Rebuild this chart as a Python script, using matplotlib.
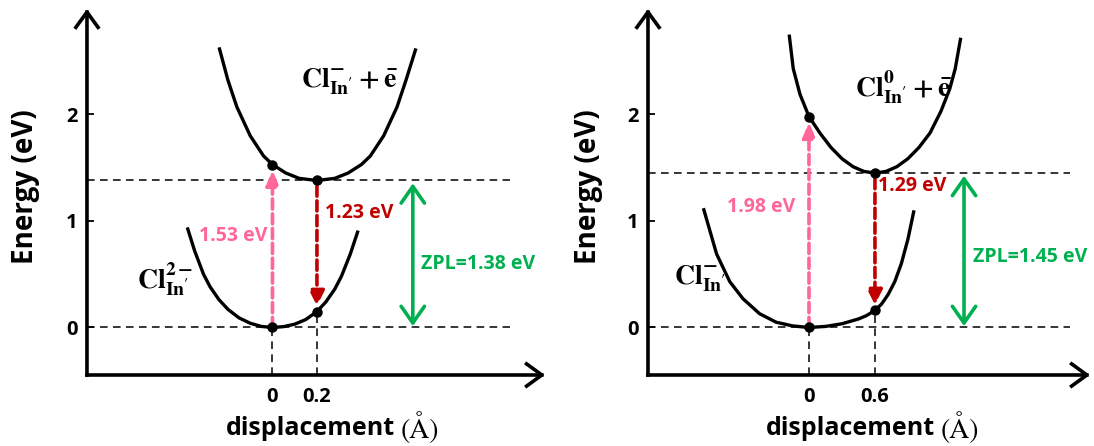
import matplotlib
matplotlib.use("Agg")
import matplotlib.pyplot as plt

plt.rcParams["font.family"] = ["Open Sans", "DejaVu Sans"]
plt.rcParams["font.weight"] = "bold"
plt.rcParams["mathtext.fontset"] = "stix"

PINK = "#ff6699"
RED = "#c00000"
GREEN = "#00b050"

# ---- left panel: Cl_In'^2- ground state / Cl_In'^- + e excited state ----
a_shift = 0.2          # displacement of excited minimum (A)
a_abs = 1.53           # vertical absorption (eV)
a_emi = 1.23           # vertical emission (eV)
a_zpl = 1.38           # zero-phonon line (eV)
a_ticks = [0, 0.2]
a_ticklabels = ["0", "0.2"]
a_ground_x = [-0.383, -0.35, -0.31, -0.28, -0.24, -0.20, -0.15, -0.10, -0.05, 0.0,
              0.05, 0.10, 0.15, 0.20, 0.24, 0.28, 0.31, 0.35, 0.385]
a_ground_e = [0.94, 0.72, 0.50, 0.38, 0.26, 0.17, 0.09, 0.04, 0.01, 0.0,
              0.008, 0.031, 0.075, 0.15, 0.24, 0.36, 0.48, 0.69, 0.91]
a_excited_x = [-0.24, -0.20, -0.16, -0.10, -0.04, 0.0, 0.06, 0.12, 0.20,
               0.28, 0.34, 0.40, 0.44, 0.50, 0.56, 0.60, 0.645]
a_excited_e = [2.63, 2.32, 2.07, 1.80, 1.61, 1.53, 1.45, 1.40, 1.38,
               1.40, 1.45, 1.53, 1.61, 1.80, 2.07, 2.32, 2.62]

# ---- right panel: Cl_In'^- ground state / Cl_In'^0 + e excited state ----
b_shift = 0.6
b_abs = 1.98
b_emi = 1.29
b_zpl = 1.45
b_ticks = [0, 0.6]
b_ticklabels = ["0", "0.6"]
b_ground_x = [-0.96, -0.84, -0.72, -0.60, -0.45, -0.30, -0.15, 0.0,
              0.15, 0.30, 0.45, 0.52, 0.60, 0.66, 0.72, 0.78, 0.84, 0.90, 0.955]
b_ground_e = [1.12, 0.69, 0.43, 0.27, 0.13, 0.05, 0.015, 0.0,
              0.01, 0.035, 0.08, 0.11, 0.16, 0.22, 0.31, 0.43, 0.60, 0.83, 1.10]
b_excited_x = [-0.18, -0.143, -0.082, 0.0, 0.1, 0.2, 0.3, 0.4, 0.5, 0.6,
               0.7, 0.8, 0.9, 1.0, 1.1, 1.2, 1.28, 1.33, 1.38]
b_excited_e = [2.75, 2.43, 2.19, 1.98, 1.825, 1.69, 1.585, 1.51, 1.465, 1.45,
               1.465, 1.51, 1.585, 1.69, 1.825, 2.03, 2.24, 2.43, 2.72]


def draw_panel(ax, xlim, ylim, ground, excited, shift, e_abs, e_emi, zpl,
               ticks, ticklabels, level_end, zpl_x, labels):
    ax.set_xlim(*xlim)
    ax.set_ylim(*ylim)
    for s in ax.spines.values():
        s.set_visible(False)

    # axes drawn as arrows
    head = "->,head_length=0.55,head_width=0.4"
    for end in [(0, 1), (1, 0)]:
        ax.annotate("", xy=end, xytext=(0, 0), xycoords="axes fraction",
                    textcoords="axes fraction",
                    arrowprops=dict(arrowstyle=head, lw=2.6, color="black",
                                    shrinkA=0, shrinkB=0, mutation_scale=20,
                                    capstyle="projecting"),
                    annotation_clip=False)

    ax.set_yticks([0, 1, 2])
    ax.tick_params(axis="y", direction="in", length=5, width=1.3, pad=7,
                   labelsize=14.5)
    ax.set_xticks(ticks)
    ax.set_xticklabels(ticklabels)
    ax.tick_params(axis="x", length=0, pad=9, labelsize=14.5)

    e_low = zpl - e_emi
    dash = dict(color="black", lw=1.1, dashes=(5, 3.5), zorder=1)
    ax.plot([xlim[0], level_end], [0, 0], **dash)
    ax.plot([xlim[0], level_end], [zpl, zpl], **dash)
    ax.plot([0, 0], [ylim[0], 0], **dash)
    ax.plot([shift, shift], [ylim[0], e_low], **dash)

    ax.plot(*ground, color="black", lw=2.4, solid_capstyle="butt",
            solid_joinstyle="round", zorder=3)
    ax.plot(*excited, color="black", lw=2.4, solid_capstyle="butt",
            solid_joinstyle="round", zorder=3)

    # absorption, emission and ZPL arrows
    ax.annotate("", xy=(0, e_abs), xytext=(0, 0),
                arrowprops=dict(arrowstyle="-|>,head_length=0.9,head_width=0.38",
                                color=PINK, lw=2.6, linestyle=(0, (2.8, 1.3)),
                                shrinkA=0, shrinkB=4, mutation_scale=10), zorder=4)
    ax.annotate("", xy=(shift, e_low), xytext=(shift, zpl),
                arrowprops=dict(arrowstyle="-|>,head_length=0.9,head_width=0.45",
                                color=RED, lw=2.6, linestyle=(0, (2.8, 1.3)),
                                shrinkA=4, shrinkB=4, mutation_scale=10), zorder=4)
    ax.annotate("", xy=(zpl_x, 0), xytext=(zpl_x, zpl),
                arrowprops=dict(arrowstyle="<->,head_length=0.6,head_width=0.42",
                                color=GREEN, lw=2.6, shrinkA=2, shrinkB=1,
                                mutation_scale=20), zorder=4)

    ax.plot([0, 0, shift, shift], [0, e_abs, zpl, e_low], "o", color="black",
            ms=6.5, zorder=6)

    for (x, y, s, ha, color, size) in labels:
        ax.text(x, y, s, ha=ha, va="center", color=color, fontsize=size)

    ax.text(-0.135, 0.515, "Energy (eV)", transform=ax.transAxes, rotation=90,
            ha="center", va="center", fontsize=20)


fig = plt.figure(figsize=(10.94, 4.46), dpi=100)
ax1 = fig.add_axes([0.0795, 0.1592, 0.4186, 0.8206])
ax2 = fig.add_axes([0.5923, 0.1592, 0.4040, 0.8206])

draw_panel(
    ax1, (-0.834, 1.225), (-0.446, 2.99),
    (a_ground_x, a_ground_e), (a_excited_x, a_excited_e),
    a_shift, a_abs, a_emi, a_zpl, a_ticks, a_ticklabels, 1.067, 0.631,
    [(-0.025, 0.86, f"{a_abs:.2f} eV", "right", PINK, 14),
     (0.236, 1.075, f"{a_emi:.2f} eV", "left", RED, 14),
     (0.667, 0.60, f"ZPL={a_zpl:.2f} eV", "left", GREEN, 14),
     (-0.483, 0.45, r"$\mathbf{Cl}_{\mathbf{In}'}^{\mathbf{2}-}$", "center", "black", 20),
     (0.346, 2.31, r"$\mathbf{Cl}_{\mathbf{In}'}^{-}+\bar{\mathbf{e}}$", "center", "black", 20)],
)
draw_panel(
    ax2, (-1.464, 2.555), (-0.446, 2.99),
    (b_ground_x, b_ground_e), (b_excited_x, b_excited_e),
    b_shift, b_abs, b_emi, b_zpl, b_ticks, b_ticklabels, 2.37, 1.41,
    [(-0.127, 1.13, f"{b_abs:.2f} eV", "right", PINK, 14),
     (0.627, 1.33, f"{b_emi:.2f} eV", "left", RED, 14),
     (1.49, 0.66, f"ZPL={b_zpl:.2f} eV", "left", GREEN, 14),
     (-0.99, 0.46, r"$\mathbf{Cl}_{\mathbf{In}'}^{-}$", "center", "black", 20),
     (0.86, 2.26, r"$\mathbf{Cl}_{\mathbf{In}'}^{\mathbf{0}}+\bar{\mathbf{e}}$", "center", "black", 20)],
)

# x-axis title: bold sans word followed by a serif unit
for ax, split in [(ax1, 0.672), (ax2, 0.650)]:
    ax.text(split, -0.145, "displacement", transform=ax.transAxes,
            ha="right", va="center", fontsize=18)
    ax.text(split + 0.012, -0.145, "(Å)", transform=ax.transAxes,
            ha="left", va="center", fontsize=20, family="STIXGeneral",
            weight="normal")

fig.savefig("out.png", dpi=100)
